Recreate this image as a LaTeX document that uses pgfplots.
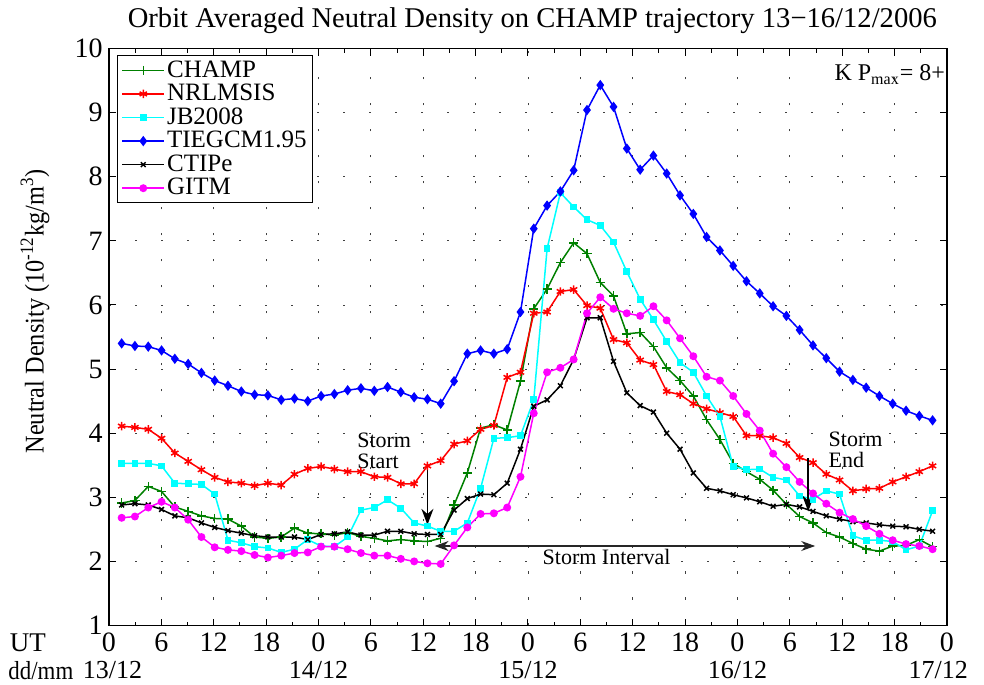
\documentclass[border=0pt]{standalone}
\usepackage{fontspec}
\setmainfont{Liberation Serif}
\usepackage{pgfplots}
\pgfplotsset{compat=1.18}
\usepackage{pgfplotstable}
\usetikzlibrary{arrows.meta}

\definecolor{mgreen}{rgb}{0,0.5,0}
\definecolor{mcyan}{rgb}{0,1,1}
\definecolor{mmagenta}{rgb}{1,0,1}
\definecolor{mred}{rgb}{1,0,0}
\definecolor{mblue}{rgb}{0,0,1}

\pgfplotstableread{
t champ nrl jb tie ctipe gitm
1.45 2.91 4.11 3.53 5.40 2.88 2.68
2.97 2.95 4.09 3.53 5.36 2.90 2.70
4.50 3.17 4.06 3.53 5.35 2.88 2.84
6.02 3.09 3.92 3.49 5.29 2.81 2.93
7.54 2.85 3.69 3.22 5.16 2.71 2.84
9.07 2.78 3.56 3.21 5.08 2.68 2.65
10.59 2.71 3.43 3.20 4.94 2.60 2.38
12.11 2.67 3.31 3.05 4.82 2.53 2.22
13.63 2.66 3.24 2.33 4.74 2.48 2.18
15.16 2.55 3.22 2.29 4.65 2.44 2.16
16.68 2.38 3.18 2.23 4.60 2.40 2.10
18.20 2.36 3.22 2.21 4.59 2.38 2.06
19.73 2.38 3.19 2.14 4.52 2.38 2.09
21.25 2.52 3.36 2.19 4.54 2.38 2.13
22.77 2.44 3.45 2.34 4.50 2.34 2.14
24.30 2.43 3.48 2.24 4.58 2.42 2.23
25.82 2.41 3.44 2.23 4.61 2.43 2.23
27.34 2.45 3.40 2.38 4.67 2.46 2.19
28.86 2.39 3.40 2.80 4.70 2.41 2.13
30.39 2.36 3.32 2.84 4.66 2.41 2.09
31.91 2.32 3.31 2.96 4.72 2.47 2.09
33.43 2.34 3.21 2.83 4.64 2.47 2.04
34.96 2.32 3.21 2.60 4.56 2.43 2.00
36.48 2.31 3.49 2.55 4.53 2.42 1.97
38.00 2.36 3.57 2.47 4.46 2.42 1.96
39.53 2.88 3.83 2.47 4.81 2.80 2.25
41.05 3.38 3.88 2.60 5.24 2.98 2.53
42.57 4.08 4.06 3.14 5.29 3.05 2.74
44.09 4.13 4.12 3.92 5.24 3.04 2.75
45.62 4.05 4.87 3.93 5.31 3.22 2.84
47.14 4.81 4.95 3.96 5.89 3.75 3.32
48.66 5.94 5.87 4.52 7.19 4.42 4.31
50.19 6.25 5.89 6.88 7.55 4.52 4.95
51.71 6.66 6.21 7.75 7.77 4.74 5.02
53.23 6.97 6.24 7.53 8.10 5.15 5.15
54.76 6.80 5.99 7.33 9.04 5.80 5.87
56.28 6.35 5.95 7.24 9.43 5.80 6.12
57.80 6.14 5.46 6.98 9.09 5.12 5.94
59.32 5.55 5.41 6.52 8.44 4.63 5.87
60.85 5.57 5.14 6.09 8.11 4.43 5.83
62.37 5.35 5.07 5.77 8.33 4.33 5.98
63.89 5.02 4.65 5.43 8.05 4.00 5.76
65.42 4.82 4.60 5.10 7.71 3.75 5.48
66.94 4.58 4.46 4.95 7.42 3.38 5.20
68.46 4.21 4.38 4.58 7.06 3.14 4.88
69.99 3.90 4.32 4.26 6.85 3.10 4.82
71.51 3.53 4.26 3.48 6.61 3.04 4.58
73.03 3.40 3.96 3.43 6.37 2.99 4.30
74.55 3.28 3.96 3.44 6.18 2.93 4.04
76.08 3.11 3.93 3.31 5.98 2.86 3.68
77.60 2.89 3.84 3.27 5.83 2.89 3.47
79.12 2.70 3.62 3.02 5.61 2.85 3.24
80.65 2.60 3.54 2.97 5.37 2.78 3.06
82.17 2.45 3.36 3.10 5.17 2.71 2.90
83.69 2.38 3.27 3.05 4.96 2.66 2.76
85.22 2.28 3.10 2.40 4.83 2.62 2.66
86.74 2.19 3.13 2.33 4.71 2.60 2.55
88.26 2.16 3.14 2.33 4.58 2.57 2.43
89.78 2.24 3.24 2.31 4.46 2.55 2.33
91.31 2.25 3.32 2.18 4.35 2.54 2.27
92.83 2.34 3.40 2.24 4.27 2.50 2.24
94.35 2.23 3.49 2.79 4.20 2.47 2.19
}\data

\begin{document}
\begin{tikzpicture}
\useasboundingbox (-54.5pt,-29.5pt) rectangle (437.5pt,312.75pt);
\begin{axis}[
  at={(0,0)}, anchor=south west,
  width=419pt, height=288.5pt, scale only axis,
  xmin=0, xmax=96, ymin=1, ymax=10,
  xtick={0,6,...,96},
  xticklabels={0,6,12,18,0,6,12,18,0,6,12,18,0,6,12,18,0},
  minor x tick num=1,
  ytick={1,2,...,10},
  grid=major,
  major grid style={black!75, line width=0.4pt, dash pattern=on 1.2pt off 11.8pt},
  tick align=inside,
  major tick length=3.5pt, minor tick length=2pt,
  axis line style={line width=0.6pt},
  every tick/.style={black, line width=0.5pt},
  tick label style={font=\fontsize{14}{14}\selectfont},
  /pgf/number format/assume math mode=true,
  xticklabel style={anchor=center, yshift=-8.5pt},
  yticklabel style={anchor=east, inner sep=0pt, xshift=-3pt},
  clip=false,
  legend style={at={(0.0095,0.9886)}, anchor=north west, draw=black, line width=0.5pt,
    font=\fontsize{12.5}{12.5}\selectfont, cells={anchor=west},
    nodes={inner sep=1pt}, row sep=0pt, inner xsep=2pt, inner ysep=1.5pt},
  legend image code/.code={\draw[mark repeat=2,mark phase=2] plot coordinates {(0cm,0cm) (0.37cm,0cm) (0.74cm,0cm)};},
]
\addplot[mgreen, line width=0.75pt, mark=+, mark size=2.3pt] table[x=t,y=champ]{\data};
\addlegendentry{CHAMP}
\addplot[mred, line width=0.75pt, mark=asterisk, mark size=2.1pt] table[x=t,y=nrl]{\data};
\addlegendentry{NRLMSIS}
\addplot[mcyan, line width=0.75pt, mark=square*, mark size=1.3pt] table[x=t,y=jb]{\data};
\addlegendentry{JB2008}
\addplot[mblue, line width=0.75pt, mark=diamond*, mark size=2pt] table[x=t,y=tie]{\data};
\addlegendentry{TIEGCM1.95}
\addplot[black, line width=0.75pt, mark=x, mark size=1.7pt] table[x=t,y=ctipe]{\data};
\addlegendentry{CTIPe}
\addplot[mmagenta, line width=0.75pt, mark=*, mark size=1.6pt] table[x=t,y=gitm]{\data};
\addlegendentry{GITM}

% annotations
\draw[black, line width=0.7pt, -{Stealth[length=8pt,width=6pt]}] (axis cs:36.48,3.49) -- (axis cs:36.48,2.57);
\draw[black, line width=0.7pt, -{Stealth[length=8pt,width=6pt]}] (axis cs:80.1,3.61) -- (axis cs:80.1,2.78);
\draw[black!85, line width=0.7pt, {Stealth[length=7pt,width=5pt]}-{Stealth[length=7pt,width=5pt]}] (axis cs:37.3,2.24) -- (axis cs:80.9,2.24);
\node[anchor=west, align=left, font=\fontsize{11}{10.5}\selectfont, inner sep=0pt] at (axis cs:28.4,3.72) {Storm\\Start};
\node[anchor=west, align=left, font=\fontsize{11}{10.5}\selectfont, inner sep=0pt] at (axis cs:82.4,3.74) {Storm\\End};
\node[anchor=north, font=\fontsize{11}{11}\selectfont, inner sep=0pt] at (axis cs:57,2.20) {Storm Interval};
\node[anchor=base east, font=\fontsize{12}{12}\selectfont, inner sep=0pt] at (axis cs:95.8,9.50) {K P\textsubscript{max}= 8+};

% title
\node[anchor=base, font=\fontsize{14.3}{14.3}\selectfont, inner sep=0pt] at ([yshift=10.75pt]axis cs:48.5,10) {Orbit Averaged Neutral Density on CHAMP trajectory 13−16/12/2006};
% y label
\node[rotate=90, font=\fontsize{13.5}{13.5}\selectfont, inner sep=0pt] at ([xshift=-37pt]axis cs:0,5.9) {\scalebox{0.9}[1]{Neutral Density (10\textsuperscript{-12}kg/m\textsuperscript{3})}};
% x labels
\node[font=\fontsize{13.5}{13.5}\selectfont, inner sep=0pt] at ([yshift=-8.5pt]axis cs:-9.3,1) {UT};
\node[font=\fontsize{13}{13}\selectfont, inner sep=0pt] at ([yshift=-22.5pt]axis cs:-7.8,1) {\scalebox{0.88}[1]{dd/mm}};
\node[font=\fontsize{13}{13}\selectfont, inner sep=0pt] at ([yshift=-22.5pt]axis cs:0.4,1) {13/12};
\node[font=\fontsize{13}{13}\selectfont, inner sep=0pt] at ([yshift=-22.5pt]axis cs:24,1) {14/12};
\node[font=\fontsize{13}{13}\selectfont, inner sep=0pt] at ([yshift=-22.5pt]axis cs:48,1) {15/12};
\node[font=\fontsize{13}{13}\selectfont, inner sep=0pt] at ([yshift=-22.5pt]axis cs:72,1) {16/12};
\node[font=\fontsize{13}{13}\selectfont, inner sep=0pt] at ([yshift=-22.5pt]axis cs:95,1) {17/12};
\end{axis}
\end{tikzpicture}
\end{document}
